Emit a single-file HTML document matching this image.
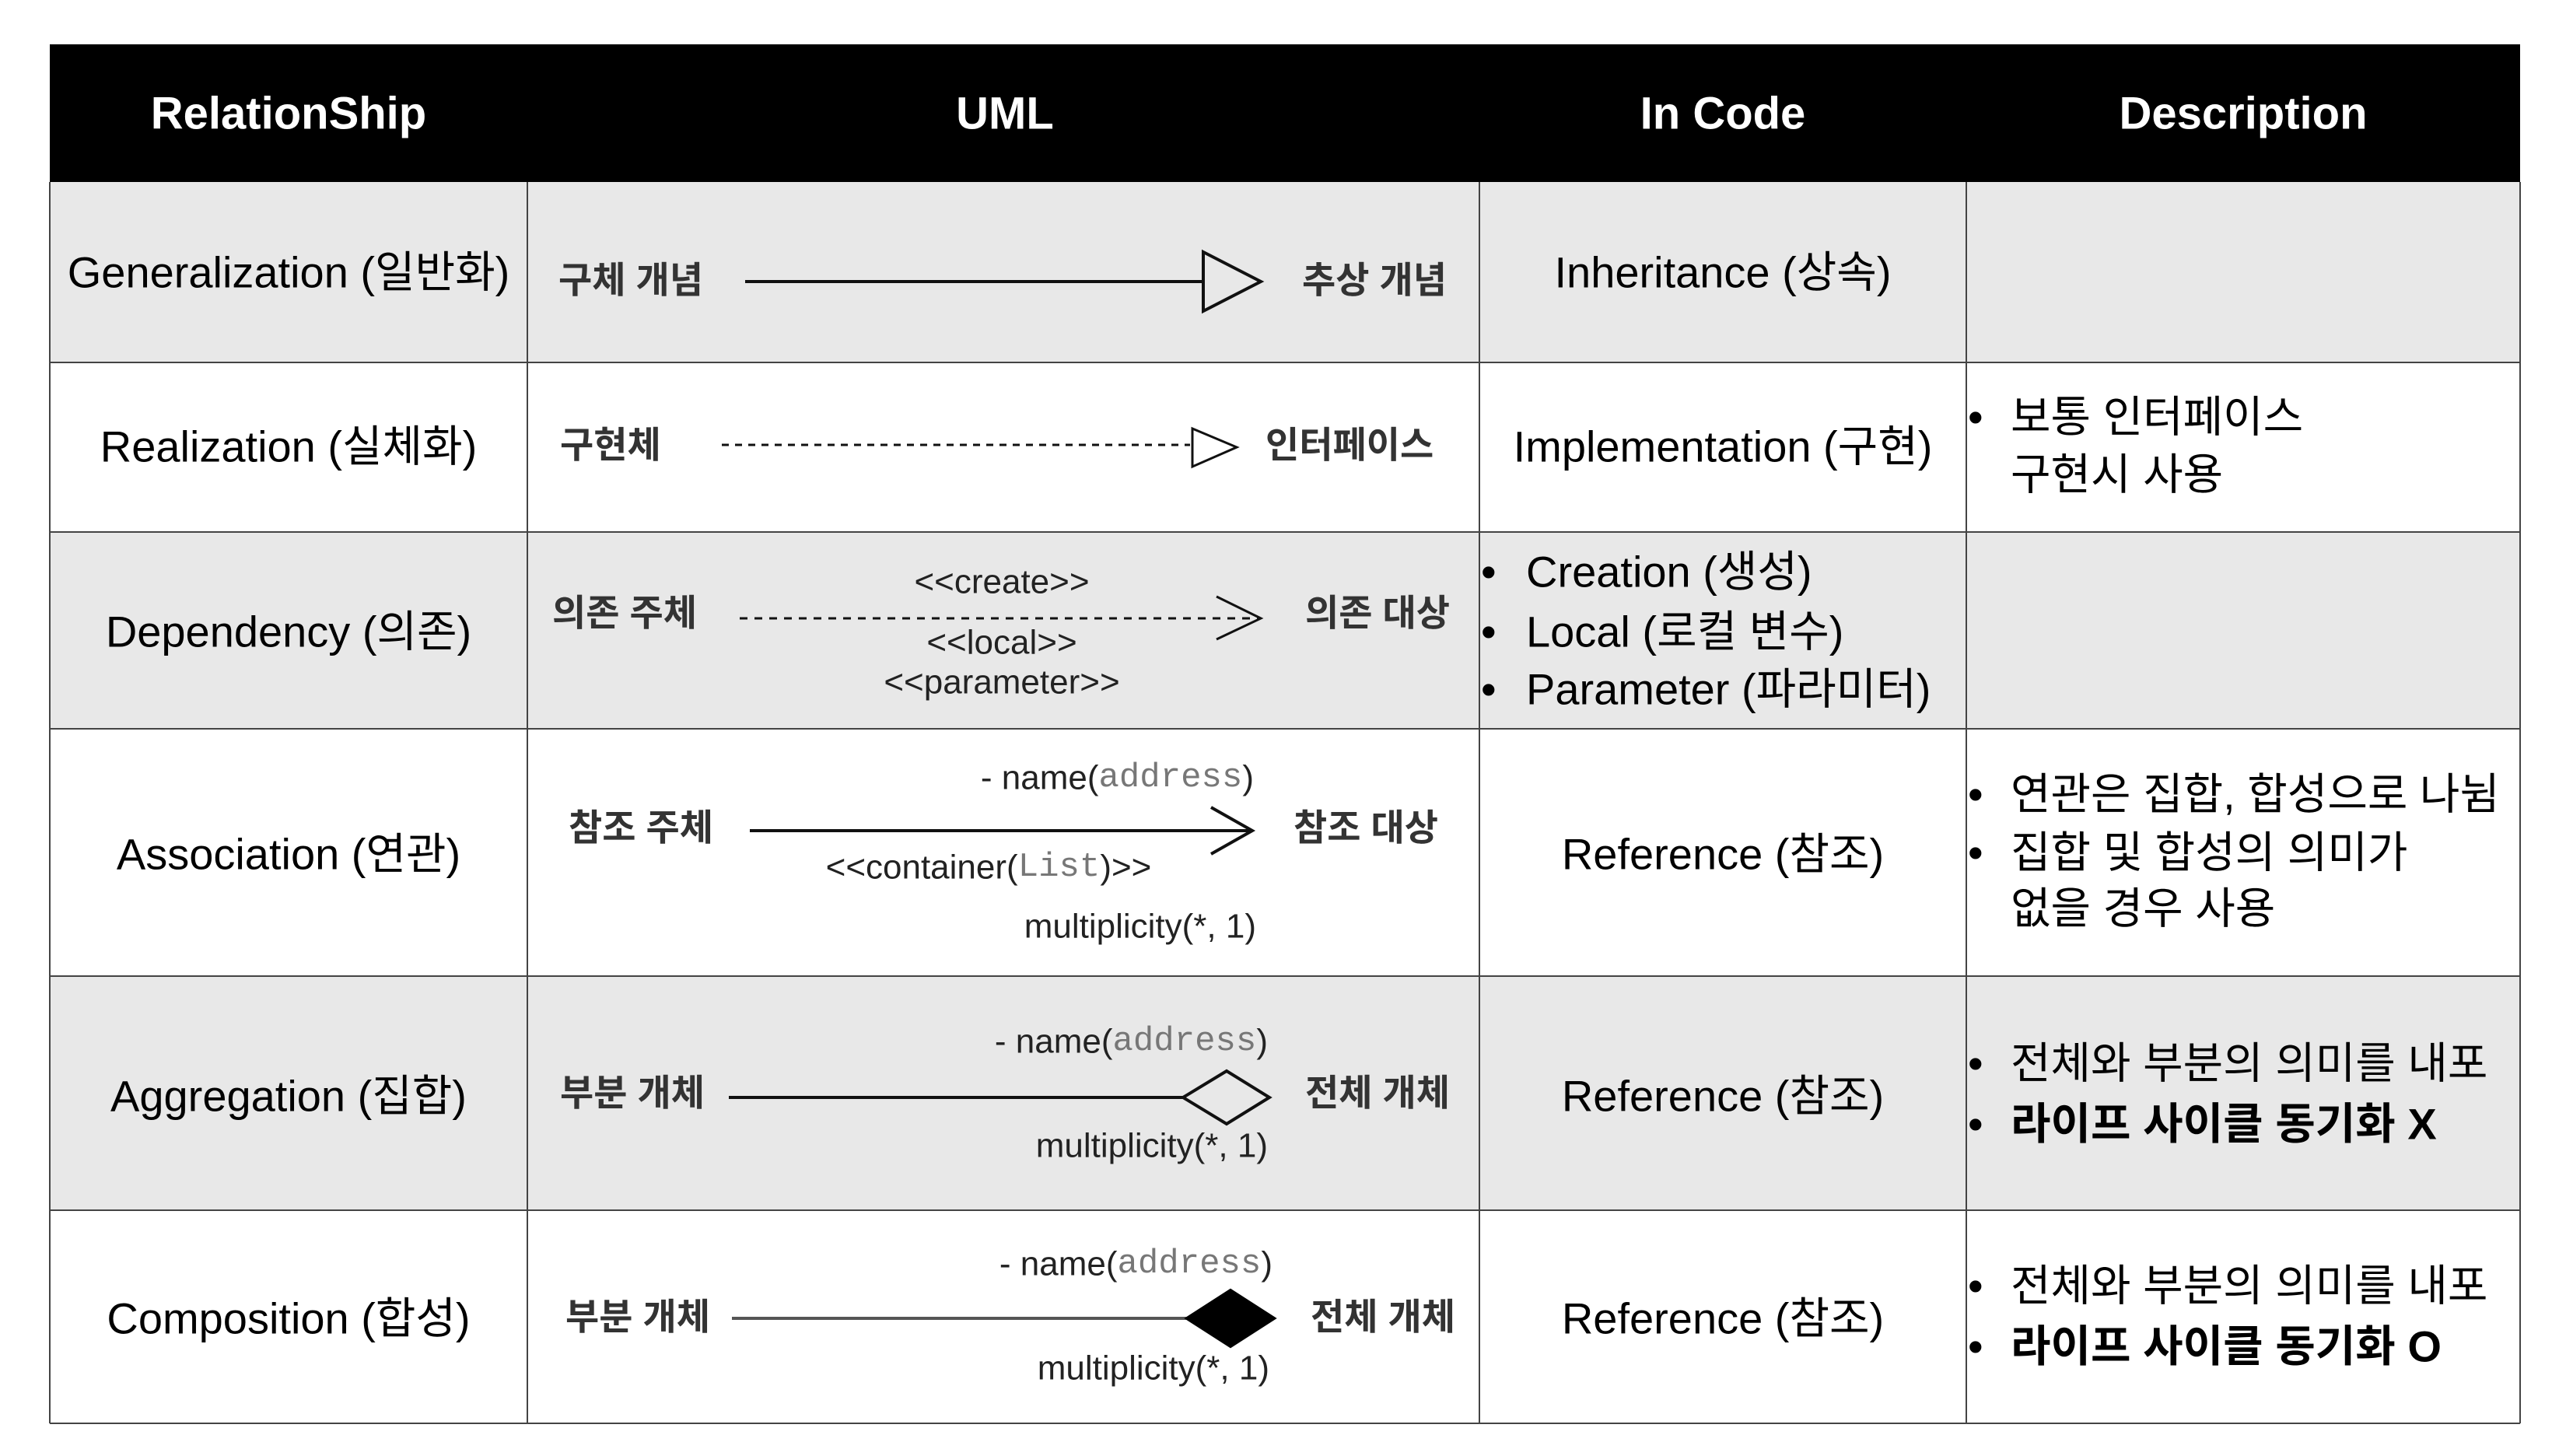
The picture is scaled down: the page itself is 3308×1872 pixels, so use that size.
<!DOCTYPE html>
<html><head><meta charset="utf-8"><style>
html,body{margin:0;padding:0;background:#fff;}
svg{display:block;}
text{font-family:"Liberation Sans","Noto Sans CJK KR",sans-serif;}
.h{fill:#fff;font-weight:bold;font-size:58px;}
.b{fill:#000;font-size:56px;}
.l{fill:#333;font-size:47px;font-weight:bold;}
.s{fill:#222;font-size:44px;}
.m{font-family:"Liberation Mono",monospace;fill:#777;}
</style></head><body>
<svg width="3308" height="1872" viewBox="0 0 3308 1872" xmlns="http://www.w3.org/2000/svg" dominant-baseline="central">
<rect width="3308" height="1872" fill="#fff"/>
<rect x="64" y="57" width="3176" height="177" fill="#000"/>
<rect x="64" y="234" width="3176" height="232" fill="#e8e8e8"/>
<rect x="64" y="684" width="3176" height="253" fill="#e8e8e8"/>
<rect x="64" y="1255" width="3176" height="301" fill="#e8e8e8"/>
<g stroke="#444" stroke-width="2" fill="none">
<line x1="64" y1="466" x2="3240" y2="466"/>
<line x1="64" y1="684" x2="3240" y2="684"/>
<line x1="64" y1="937" x2="3240" y2="937"/>
<line x1="64" y1="1255" x2="3240" y2="1255"/>
<line x1="64" y1="1556" x2="3240" y2="1556"/>
<line x1="64" y1="1830" x2="3240" y2="1830"/>
<line x1="64" y1="234" x2="64" y2="1830"/>
<line x1="678" y1="234" x2="678" y2="1830"/>
<line x1="1902" y1="234" x2="1902" y2="1830"/>
<line x1="2528" y1="234" x2="2528" y2="1830"/>
<line x1="3240" y1="234" x2="3240" y2="1830"/>
</g>
<g text-anchor="middle">
<text class="h" x="371" y="146">RelationShip</text>
<text class="h" x="1292" y="146">UML</text>
<text class="h" x="2215" y="146">In Code</text>
<text class="h" x="2884" y="146">Description</text>
<text class="b" x="371" y="350">Generalization (일반화)</text>
<text class="b" x="371" y="574">Realization (실체화)</text>
<text class="b" x="371" y="812">Dependency (의존)</text>
<text class="b" x="371" y="1098">Association (연관)</text>
<text class="b" x="371" y="1409">Aggregation (집합)</text>
<text class="b" x="371" y="1695">Composition (합성)</text>
<text class="b" x="2215" y="350">Inheritance (상속)</text>
<text class="b" x="2215" y="574">Implementation (구현)</text>
<text class="b" x="2215" y="1098">Reference (참조)</text>
<text class="b" x="2215" y="1409">Reference (참조)</text>
<text class="b" x="2215" y="1695">Reference (참조)</text>
</g>
<g class="b">
<text x="1904" y="735">•</text><text x="1962" y="735">Creation (생성)</text>
<text x="1904" y="812">•</text><text x="1962" y="812">Local (로컬 변수)</text>
<text x="1904" y="886">•</text><text x="1962" y="886">Parameter (파라미터)</text>
</g>
<g class="b">
<text x="2530" y="536">•</text><text x="2585" y="536">보통 인터페이스</text>
<text x="2585" y="610">구현시 사용</text>
<text x="2530" y="1021">•</text><text x="2585" y="1021">연관은 집합, 합성으로 나뉨</text>
<text x="2530" y="1096">•</text><text x="2585" y="1096">집합 및 합성의 의미가</text>
<text x="2585" y="1168">없을 경우 사용</text>
<text x="2530" y="1367">•</text><text x="2585" y="1367">전체와 부분의 의미를 내포</text>
<text x="2530" y="1445">•</text><text x="2585" y="1445" font-weight="bold">라이프 사이클 동기화 X</text>
<text x="2530" y="1653">•</text><text x="2585" y="1653">전체와 부분의 의미를 내포</text>
<text x="2530" y="1731">•</text><text x="2585" y="1731" font-weight="bold">라이프 사이클 동기화 O</text>
</g>
<g class="l">
<text x="718" y="360">구체 개념</text><text x="1674" y="360">추상 개념</text>
<text x="720" y="572">구현체</text><text x="1627" y="572">인터페이스</text>
<text x="710" y="788">의존 주체</text><text x="1678" y="788">의존 대상</text>
<text x="731" y="1064">참조 주체</text><text x="1663" y="1064">참조 대상</text>
<text x="720" y="1405">부분 개체</text><text x="1678" y="1405">전체 개체</text>
<text x="727" y="1693">부분 개체</text><text x="1685" y="1693">전체 개체</text>
</g>
<g stroke="#111" stroke-width="4" fill="none">
<line x1="958" y1="362" x2="1547" y2="362"/>
<polygon points="1547,324 1621,362 1547,400" fill="none"/>
<line x1="928" y1="572" x2="1530" y2="572" stroke-dasharray="9,8" stroke-width="3"/>
<polygon points="1533,551 1590,575 1533,600" fill="none" stroke-width="3"/>
<line x1="951" y1="795" x2="1618" y2="795" stroke-dasharray="10,9" stroke-width="3"/>
<polyline points="1564,767 1621,795 1564,822" stroke-width="3"/>
<line x1="964" y1="1068" x2="1608" y2="1068"/>
<polyline points="1557,1038 1610,1068 1557,1098"/>
<line x1="937" y1="1411" x2="1521" y2="1411"/>
<polygon points="1521,1411 1577,1377 1632,1411 1577,1445" fill="#e8e8e8"/>
<line x1="941" y1="1695" x2="1526" y2="1695" stroke="#555"/>
<polygon points="1526,1695 1582,1659 1638,1695 1582,1731" fill="#000" stroke="#000"/>
</g>
<g class="s" text-anchor="middle">
<text x="1288" y="748">&lt;&lt;create&gt;&gt;</text>
<text x="1288" y="826">&lt;&lt;local&gt;&gt;</text>
<text x="1288" y="877">&lt;&lt;parameter&gt;&gt;</text>
<text x="1271" y="1115">&lt;&lt;container(<tspan class="m">List</tspan>)&gt;&gt;</text>
</g>
<g class="s" text-anchor="end">
<text x="1612" y="1000">- name(<tspan class="m">address</tspan>)</text>
<text x="1615" y="1191">multiplicity(*, 1)</text>
<text x="1630" y="1339">- name(<tspan class="m">address</tspan>)</text>
<text x="1630" y="1473">multiplicity(*, 1)</text>
<text x="1636" y="1625">- name(<tspan class="m">address</tspan>)</text>
<text x="1632" y="1759">multiplicity(*, 1)</text>
</g>
</svg>
</body></html>
